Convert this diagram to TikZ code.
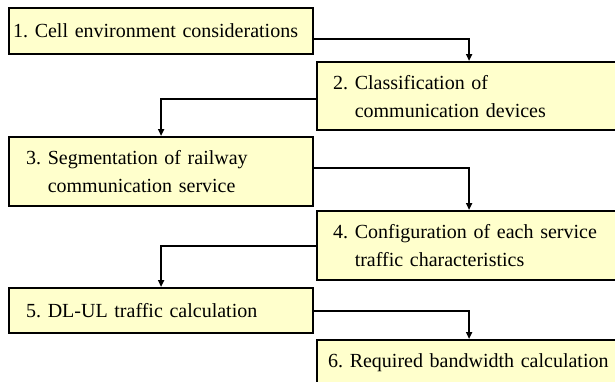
\documentclass[tikz,border=0pt]{standalone}
\usepackage{fontspec}
\setmainfont{Liberation Serif}
\usetikzlibrary{arrows.meta,positioning}
\definecolor{stepfill}{HTML}{FFFFCC}
\newcommand{\stepfont}{\fontsize{20pt}{28pt}\selectfont\frenchspacing\hyphenpenalty=10000\relax}
\tikzset{stepbox/.style={draw, line width=2.2pt, fill=stepfill, anchor=north west, align=left, inner ysep=0pt, font=\stepfont}, flow/.style={line width=2pt, -{Triangle[length=7pt,width=6pt]}}}
\newcommand{\stepind}{\hphantom{2.\ }}

\begin{document}
\begin{tikzpicture}[x=1pt,y=1pt]
    \useasboundingbox (0,0) rectangle (615,-381);
    \clip (0,0) rectangle (615,-381);
    \node[stepbox, inner xsep=4pt, text width=296pt, minimum height=46pt] (S1) at (8,-7) {1. Cell environment considerations};
    \node[stepbox, inner xsep=16pt, text width=272pt, minimum height=68pt] (S2) at (316,-61) {2. Classification of\\\stepind communication devices};
    \node[stepbox, inner xsep=17pt, text width=270pt, minimum height=69pt] (S3) at (8,-136) {3. Segmentation of railway\\\stepind communication service};
    \node[stepbox, inner xsep=16pt, text width=272pt, minimum height=69pt] (S4) at (316,-210) {4. Configuration of each service\\\stepind traffic characteristics};
    \node[stepbox, inner xsep=17pt, text width=270pt, minimum height=45pt] (S5) at (8,-287) {5. DL-UL traffic calculation};
    \node[stepbox, inner xsep=11pt, text width=300pt, minimum height=46pt] (S6) at (316,-339) {6. Required bandwidth calculation};
    \draw[flow] ([yshift=-8pt]S1.east) -| (S2.north);
    \draw[flow] ([yshift=-3pt]S2.west) -| (S3.north);
    \draw[flow] ([yshift=4pt]S3.east) -| (S4.north);
    \draw[flow] (S4.west) -| (S5.north);
    \draw[flow] (S5.east) -| (S6.north -| S4.north);
\end{tikzpicture}
\end{document}
